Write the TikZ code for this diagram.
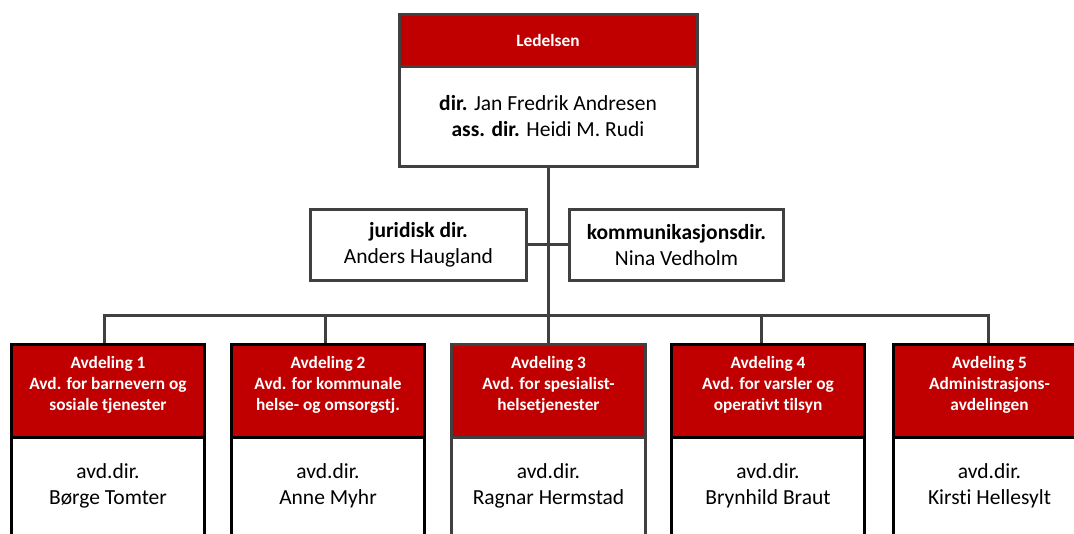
\documentclass[tikz,border=0pt]{standalone}
\usepackage{fontspec}
\setmainfont{Carlito}[Ligatures=NoCommon]
\usepackage{tikz}
\definecolor{avdred}{HTML}{C00000}
\definecolor{linegray}{HTML}{404040}

\tikzset{
  link/.style={draw=linegray, line width=3pt},
  headbox/.style={draw=linegray, line width=3pt, fill=avdred, text=white, align=center, inner sep=0pt,
    font=\bfseries\fontsize{17.3}{21}\selectfont},
  bodybox/.style={draw=linegray, line width=3pt, fill=white, align=center, inner sep=0pt,
    font=\fontsize{21.5}{26}\selectfont},
  avdhead/.style={headbox, draw=black, minimum width=193pt, minimum height=92.5pt, anchor=north, text depth=15pt},
  avdbody/.style={bodybox, draw=black, minimum width=193pt, minimum height=150pt, anchor=north, text depth=57pt}
}

\begin{document}
\begin{tikzpicture}[x=1pt,y=-1pt]
\useasboundingbox (0,0) rectangle (1074,534);

% ledelsen
\node[bodybox, minimum width=298pt, minimum height=100.5pt] (ledelse) at (548,116.5)
  {\textbf{dir.} Jan Fredrik Andresen\\\textbf{ass. dir.} Heidi M. Rudi};
\node[headbox, minimum width=298pt, minimum height=51.5pt] (ledhead) at (548,40.5) {Ledelsen};

% staff
\node[bodybox, minimum width=216pt, minimum height=71pt] (jur) at (418.5,245)
  {\textbf{juridisk dir.}\\Anders Haugland};
\node[bodybox, minimum width=214pt, minimum height=71pt] (komm) at (676.5,245)
  {\textbf{kommunikasjonsdir.}\\Nina Vedholm};

\coordinate (bus) at (548,315.5);

% avdelinger
\node[avdbody] (body1) at (108,436) {avd.dir.\\Børge Tomter};
\node[avdhead] (avd1) at (108,343.5) {Avdeling 1\\Avd. for barnevern og\\sosiale tjenester};

\node[avdbody] (body2) at (328,436) {avd.dir.\\Anne Myhr};
\node[avdhead] (avd2) at (328,343.5) {Avdeling 2\\Avd. for kommunale\\helse- og omsorgstj.};

\node[avdbody, draw=linegray, minimum width=194pt] (body3) at (548.5,436) {avd.dir.\\Ragnar Hermstad};
\node[avdhead, draw=linegray, minimum width=194pt] (avd3) at (548.5,343.5) {Avdeling 3\\Avd. for spesialist-\\helsetjenester};

\node[avdbody] (body4) at (768,436) {avd.dir.\\Brynhild Braut};
\node[avdhead] (avd4) at (768,343.5) {Avdeling 4\\Avd. for varsler og\\operativt tilsyn};

\node[avdbody] (body5) at (989.5,436) {avd.dir.\\Kirsti Hellesylt};
\node[avdhead] (avd5) at (989.5,343.5) {Avdeling 5\\Administrasjons-\\avdelingen};

% lines
\draw[link] (ledelse.south) -- (bus);
\draw[link] (jur.east) -- (komm.west);
\draw[link] ([xshift=-3.5pt]avd1.north) |- (bus) -| ([xshift=-1.5pt]avd5.north);
\draw[link] ([xshift=-3pt]avd2.north) -- ([xshift=-3pt]avd2.north |- bus);
\draw[link] (avd3.north) -- (avd3.north |- bus);
\draw[link] ([xshift=-7pt]avd4.north) -- ([xshift=-7pt]avd4.north |- bus);
\end{tikzpicture}
\end{document}
